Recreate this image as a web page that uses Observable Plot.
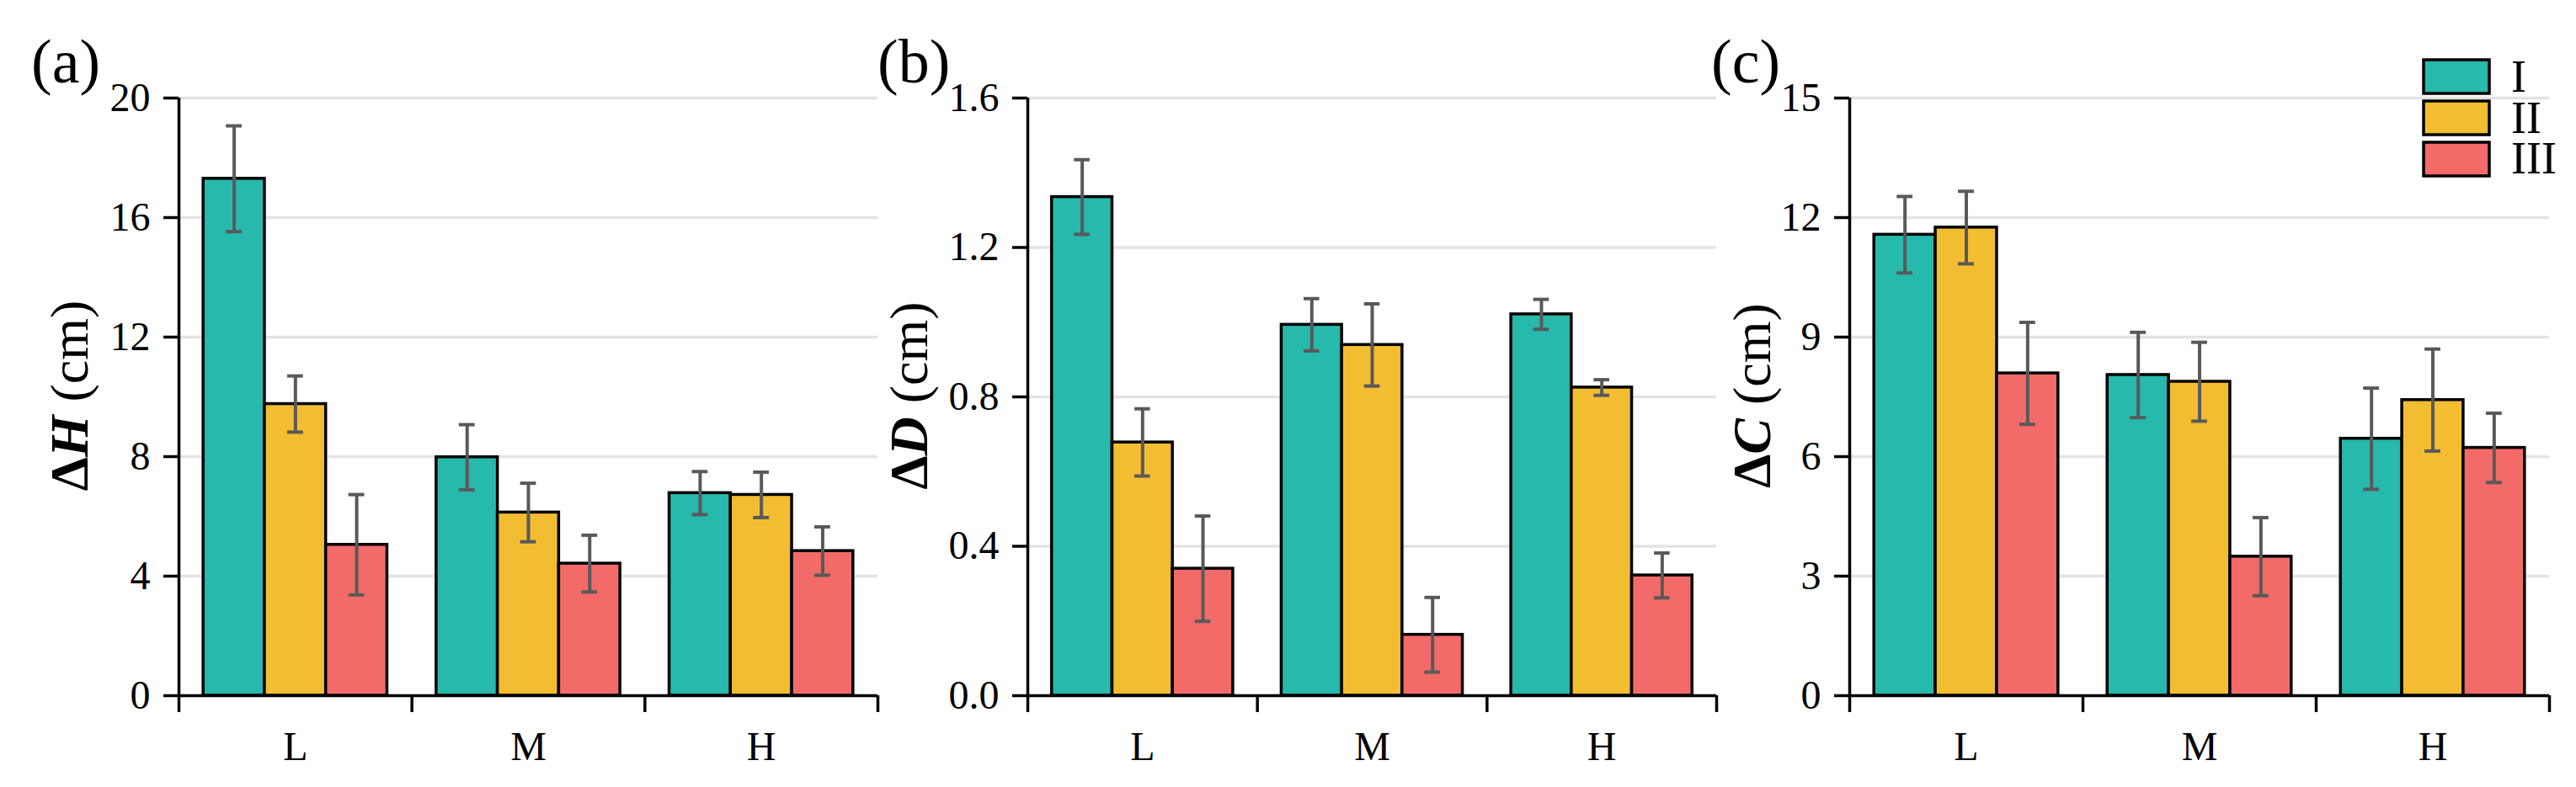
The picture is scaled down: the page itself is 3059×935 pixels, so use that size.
<!DOCTYPE html>
<html>
<head>
<meta charset="utf-8">
<script src="https://cdn.jsdelivr.net/npm/d3@7"></script>
<script src="https://cdn.jsdelivr.net/npm/@observablehq/plot@0.6"></script>
<style>
  body { margin: 0; background: #fff; }
  #fig { position: relative; width: 3059px; height: 935px; overflow: hidden; }
  #fig svg { position: absolute; top: 0; }
</style>
</head>
<body>
<div id="fig"></div>
<script>
// Growth increments by density class (L/M/H) and treatment (I/II/III)
const categories = ["L", "M", "H"];
const groups = ["I", "II", "III"];
const colors = ["#27b9ac", "#f3bd32", "#f26b69"];

// rows = group (I, II, III), columns = category (L, M, H)
const dHMean = [[17.30, 7.98, 6.78], [9.76, 6.13, 6.72], [5.05, 4.42, 4.84]];
const dHErr = [[1.77, 1.09, 0.72], [0.94, 0.98, 0.76], [1.68, 0.95, 0.81]];
const dDMean = [[1.335, 0.993, 1.021], [0.678, 0.939, 0.825], [0.340, 0.163, 0.322]];
const dDErr = [[0.100, 0.070, 0.040], [0.090, 0.110, 0.021], [0.141, 0.100, 0.060]];
const dCMean = [[11.57, 8.05, 6.45], [11.75, 7.88, 7.42], [8.09, 3.49, 6.22]];
const dCErr = [[0.96, 1.07, 1.27], [0.91, 0.99, 1.28], [1.28, 0.98, 0.87]];

const ticksH = [0, 4, 8, 12, 16, 20];
const ticksD = [0, 0.4, 0.8, 1.2, 1.6];
const ticksC = [0, 3, 6, 9, 12, 15];

const FONT = "'Liberation Serif', 'Times New Roman', Times, serif";
const BAR_W = 0.263;               // bar width as share of a category band
const PAD = (1 - 3 * BAR_W) / 2;
const CAP = 0.034;                 // half width of error caps (band units)
const LW = 3.5;

function rowsFor(mean, err) {
  return categories.flatMap((c, i) => groups.map((g, j) => ({
    cat: c, grp: g, mean: mean[j][i], err: err[j][i],
    x1: i + PAD + j * BAR_W,
    x2: i + PAD + (j + 1) * BAR_W,
    xc: i + PAD + (j + 0.5) * BAR_W,
  })));
}

function panel(opts) {
  const rows = rowsFor(opts.mean, opts.err);
  const errStyle = { stroke: "#595959", strokeWidth: 4 };
  const plot = Plot.plot({
    width: opts.width,
    height: 935,
    marginLeft: opts.marginLeft,
    marginRight: opts.marginRight,
    marginTop: 116,
    marginBottom: 109,
    x: { type: "linear", domain: [0, 3], axis: null },
    y: { domain: [0, opts.yMax], axis: null },
    color: { domain: groups, range: colors },
    style: { fontFamily: FONT, background: "transparent", overflow: "visible", maxWidth: "none", color: "black" },
    marks: [
      Plot.gridY(opts.ticks, { stroke: "#e3e3e3", strokeOpacity: 1, strokeWidth: LW }),
      Plot.rect(rows, { x1: "x1", x2: "x2", y1: () => 0, y2: "mean", fill: "grp", stroke: "black", strokeWidth: LW }),
      Plot.ruleX(rows, { x: "xc", y1: d => d.mean - d.err, y2: d => d.mean + d.err, ...errStyle }),
      Plot.ruleY(rows, { y: d => d.mean + d.err, x1: d => d.xc - CAP, x2: d => d.xc + CAP, ...errStyle }),
      Plot.ruleY(rows, { y: d => d.mean - d.err, x1: d => d.xc - CAP, x2: d => d.xc + CAP, ...errStyle }),
      Plot.ruleX([0], { strokeWidth: LW }),
      Plot.ruleY([0], { strokeWidth: LW }),
      Plot.axisY(opts.ticks, { anchor: "left", tickSize: 18, tickPadding: 16, fontSize: 48, fontFamily: FONT, strokeWidth: LW, tickFormat: opts.fmt, label: null }),
      Plot.axisX([0, 1, 2, 3], { anchor: "bottom", tickSize: 20, strokeWidth: LW, tickFormat: () => "", label: null }),
      Plot.text(categories, { x: (d, i) => i + 0.5, text: d => d, frameAnchor: "bottom", lineAnchor: "middle", dy: 61, fontSize: 48, fontFamily: FONT }),
    ],
  });
  plot.style.left = opts.left + "px";

  const svg = d3.select(plot);
  // panel tag, e.g. (a)
  svg.append("text")
    .attr("x", opts.tagX).attr("y", 98)
    .attr("text-anchor", "start")
    .attr("font-size", 74).attr("font-family", FONT)
    .text(opts.tag);

  // y title: bold delta + italic variable, regular unit
  const t = svg.append("text")
    .attr("transform", `translate(${opts.titleX},470) rotate(-90)`)
    .attr("text-anchor", "middle")
    .attr("font-size", 64).attr("font-family", FONT);
  t.append("tspan").attr("font-weight", "bold").text("Δ");
  t.append("tspan").attr("font-weight", "bold").attr("font-style", "italic").text(opts.variable);
  t.append("tspan").text(" (cm)");

  return plot;
}

const fig = document.getElementById("fig");

fig.appendChild(panel({
  mean: dHMean, err: dHErr, yMax: 20, ticks: ticksH, fmt: d3.format("d"),
  left: 0, width: 1045, marginLeft: 212, marginRight: 3,
  tag: "(a)", tagX: 37, variable: "H", titleX: 104,
}));

fig.appendChild(panel({
  mean: dDMean, err: dDErr, yMax: 1.6, ticks: ticksD, fmt: d3.format(".1f"),
  left: 1040, width: 1000, marginLeft: 180, marginRight: 2,
  tag: "(b)", tagX: 2, variable: "D", titleX: 61,
}));

const plotC = panel({
  mean: dCMean, err: dCErr, yMax: 15, ticks: ticksC, fmt: d3.format("d"),
  left: 2030, width: 1029, marginLeft: 166, marginRight: 32,
  tag: "(c)", tagX: 2, variable: "C", titleX: 72,
});
fig.appendChild(plotC);

// legend in the top right of panel (c)
const leg = d3.select(plotC).append("g");
groups.forEach((g, j) => {
  leg.append("rect")
    .attr("x", 848).attr("y", 71 + j * 49)
    .attr("width", 78).attr("height", 40)
    .attr("fill", colors[j]).attr("stroke", "black").attr("stroke-width", LW);
  leg.append("text")
    .attr("x", 952).attr("y", 109 + j * 48.5)
    .attr("text-anchor", "start")
    .attr("font-size", 54).attr("font-family", FONT)
    .text(g);
});
</script>
</body>
</html>
